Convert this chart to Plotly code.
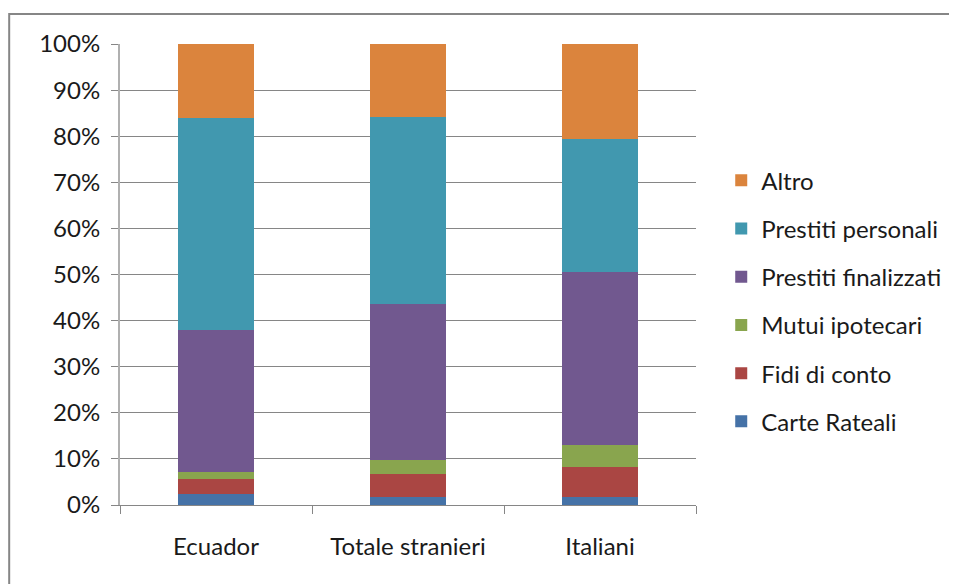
import plotly.graph_objects as go

categories = ["Ecuador", "Totale stranieri", "Italiani"]
series_names = ["Carte Rateali", "Fidi di conto", "Mutui ipotecari",
                "Prestiti finalizzati", "Prestiti personali", "Altro"]
carte_rateali = [2.3, 1.7, 1.7]
fidi_di_conto = [3.3, 5.1, 6.5]
mutui_ipotecari = [1.5, 3.0, 4.9]
prestiti_finalizzati = [30.8, 33.9, 37.5]
prestiti_personali = [46.1, 40.5, 28.8]
altro = [16.0, 15.8, 20.6]
colors = ["#4572A7", "#AA4643", "#89A54E", "#71588F", "#4198AF", "#DB843D"]
y_ticks = [0, 0.1, 0.2, 0.3, 0.4, 0.5, 0.6, 0.7, 0.8, 0.9, 1.0]

series_values = [carte_rateali, fidi_di_conto, mutui_ipotecari,
                 prestiti_finalizzati, prestiti_personali, altro]

# page has an 8px body margin, so the figure is sized to fill the window
W, H = 949, 576
L, R, T, B = 112, 260, 36, 79
pw, ph = W - L - R, H - T - B

fig = go.Figure()
n = len(series_names)
for i, (name, vals, col) in enumerate(zip(series_names, series_values, colors)):
    fig.add_trace(go.Bar(
        name=name, x=categories, y=[v / 100 for v in vals],
        marker=dict(color=col, line=dict(width=0)),
        width=0.4, legendgroup=name, legendrank=n - i,
    ))

# outer chart frame
fig.add_shape(type="rect", xref="paper", yref="paper",
              x0=(1 - L) / pw, x1=(W + 10 - L) / pw,
              y0=(T + ph - (H + 10)) / ph, y1=(T + ph - 6) / ph,
              line=dict(color="#868686", width=2), fillcolor="rgba(0,0,0,0)",
              layer="below")

fig.update_layout(
    width=W, height=H,
    margin=dict(l=L, r=R, t=T, b=B),
    barmode="stack",
    plot_bgcolor="white", paper_bgcolor="white",
    font=dict(family="Lato, 'Open Sans', sans-serif", size=24, color="#1a1a1a"),
    showlegend=True,
    legend=dict(traceorder="grouped", tracegroupgap=14,
                x=1.042, xanchor="left", y=0.442, yanchor="middle",
                font=dict(size=24), itemwidth=30,
                bgcolor="rgba(0,0,0,0)"),
    xaxis=dict(showline=True, linecolor="#868686", linewidth=1,
               ticks="outside", ticklen=8, tickcolor="#868686",
               tickson="boundaries", showgrid=False, zeroline=False,
               ticklabelstandoff=20, tickfont=dict(size=24)),
    yaxis=dict(range=[0, 1], tickvals=y_ticks, tickformat=".0%",
               showgrid=True, gridcolor="#868686", gridwidth=1,
               showline=True, linecolor="#b0b0b0", linewidth=2,
               ticks="outside", ticklen=7, tickcolor="#868686",
               zeroline=False, ticklabelstandoff=6,
               tickfont=dict(size=24)),
)

fig.write_html("out.html")
